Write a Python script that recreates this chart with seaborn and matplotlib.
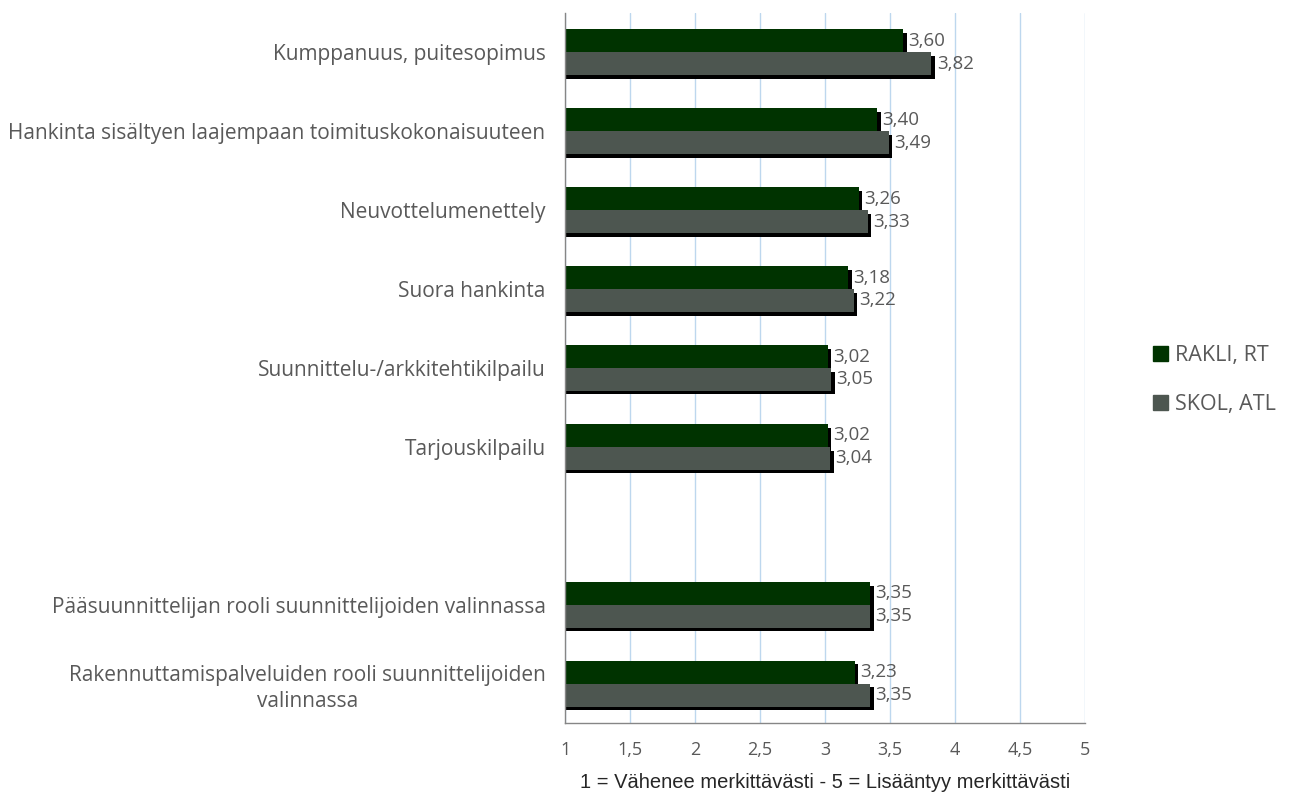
import matplotlib
matplotlib.use("Agg")
import matplotlib.pyplot as plt
import matplotlib.patheffects as pe
import numpy as np
import pandas as pd
import seaborn as sns

# ----------------------------
# Data
# ----------------------------
categories = [
    "Kumppanuus, puitesopimus",
    "Hankinta sisältyen laajempaan toimituskokonaisuuteen",
    "Neuvottelumenettely",
    "Suora hankinta",
    "Suunnittelu-/arkkitehtikilpailu",
    "Tarjouskilpailu",
    " ",
    "Pääsuunnittelijan rooli suunnittelijoiden valinnassa",
    "Rakennuttamispalveluiden rooli suunnittelijoiden\nvalinnassa",
]
rakli_rt = [3.60, 3.40, 3.26, 3.18, 3.02, 3.02, np.nan, 3.35, 3.23]
skol_atl = [3.82, 3.49, 3.33, 3.22, 3.05, 3.04, np.nan, 3.35, 3.35]
series = ["RAKLI, RT", "SKOL, ATL"]
colors = ["#003300", "#4D5650"]
x_ticks = [1, 1.5, 2, 2.5, 3, 3.5, 4, 4.5, 5]

df = pd.DataFrame({
    "kategoria": categories * 2,
    "arvo": rakli_rt + skol_atl,
    "ryhma": [series[0]] * len(categories) + [series[1]] * len(categories),
})

text_color = "#595959"

sns.set_style("white")
plt.rcParams["font.family"] = ["Open Sans", "DejaVu Sans"]

fig = plt.figure(figsize=(12.93, 7.93), dpi=100)
ax = fig.add_axes([0.437, 0.088, 0.402, 0.896])

sns.barplot(data=df, y="kategoria", x="arvo", hue="ryhma", order=categories,
            hue_order=series, palette=colors, width=0.58, orient="h",
            errorbar=None, ax=ax, legend=False, saturation=1,
            linewidth=0, edgecolor="none")

# shadow on bars
for p in ax.patches:
    p.set_path_effects([pe.SimplePatchShadow(offset=(2.6, -2.6), shadow_rgbFace="black", alpha=1),
                        pe.Normal()])

# value labels
for cont in ax.containers:
    for p in cont:
        w = p.get_width()
        if np.isnan(w) or w == 0:
            continue
        ax.text(w + 0.04, p.get_y() + p.get_height() / 2, f"{w:.2f}".replace(".", ","),
                va="center", ha="left", fontsize=13.5, color=text_color)

ax.set_xlim(1, 5)
ax.set_ylim(len(categories) - 0.5, -0.5)
ax.set_xticks(x_ticks)
ax.set_xticklabels([f"{t:g}".replace(".", ",") for t in x_ticks], fontsize=13, color=text_color)
ax.xaxis.grid(True, color="#BDD7EE", linewidth=1)
ax.set_axisbelow(True)

ax.set_yticks(range(len(categories)))
ax.set_yticklabels(categories, fontsize=15, color=text_color)
for lbl in ax.get_yticklabels():
    lbl.set_multialignment("center")
    lbl.set_linespacing(1.3)
ax.set_yticks(np.arange(-0.5, len(categories), 1), minor=True)
ax.tick_params(axis="y", which="major", length=0, pad=14)
ax.tick_params(axis="y", which="minor", length=8, color="#868686", direction="out")
ax.tick_params(axis="x", length=6, color="#868686", direction="out", pad=7)

for s in ["top", "right"]:
    ax.spines[s].set_visible(False)
for s in ["left", "bottom"]:
    ax.spines[s].set_color("#868686")
    ax.spines[s].set_linewidth(1)

ax.set_ylabel("")
ax.set_xlabel("1 = Vähenee merkittävästi - 5 = Lisääntyy merkittävästi",
              fontsize=14.5, color="#262626", family=["Liberation Sans", "DejaVu Sans"], labelpad=10)

# legend
handles = [plt.Rectangle((0, 0), 1, 1, color=c) for c in colors]
fig.legend(handles, series, loc="center left", bbox_to_anchor=(0.877, 0.521), frameon=False,
           fontsize=15.5, labelcolor=text_color, handlelength=0.7, handleheight=0.7,
           handletextpad=0.3, labelspacing=1.3)

fig.savefig("out.png", dpi=100)
